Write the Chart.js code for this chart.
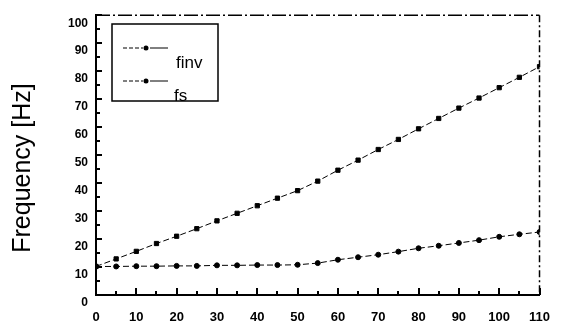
<!DOCTYPE html>
<html>
<head>
<meta charset="utf-8">
<script src="https://cdn.jsdelivr.net/npm/chart.js@4/dist/chart.umd.min.js"></script>
<style>
  body { margin: 0; background: #fff; }
</style>
</head>
<body>
<canvas id="freqChart" width="565" height="322"></canvas>
<script>
// speed axis (every 5)
var speed = [0, 5, 10, 15, 20, 25, 30, 35, 40, 45, 50, 55, 60, 65, 70, 75, 80, 85, 90, 95, 100, 105, 110];
var finv = [10.2, 12.9, 15.6, 18.4, 21.0, 23.7, 26.5, 29.2, 31.9, 34.6, 37.3, 40.7, 44.6, 48.2, 52.0, 55.6, 59.4, 63.1, 66.8, 70.4, 74.1, 77.8, 81.6];
var fs = [10.2, 10.2, 10.3, 10.3, 10.4, 10.4, 10.6, 10.6, 10.7, 10.7, 10.8, 11.4, 12.6, 13.5, 14.4, 15.5, 16.7, 17.6, 18.6, 19.6, 20.8, 21.7, 22.5];
var seriesNames = ['finv', 'fs'];
var yTitle = 'Frequency [Hz]';

function pts(arr) {
  return speed.map(function(s, i) { return {x: s, y: arr[i]}; });
}

// inside ticks, dashed top/right frame, boxed legend, axis title
var frame = {
  id: 'frame',
  afterDraw: function(chart) {
    var ctx = chart.ctx, a = chart.chartArea, x = chart.scales.x, y = chart.scales.y;
    ctx.save();
    ctx.strokeStyle = '#000';
    ctx.lineWidth = 1.5;
    ctx.setLineDash([14, 3, 2, 3]);
    ctx.beginPath();
    ctx.moveTo(a.left, a.top); ctx.lineTo(a.right, a.top);
    ctx.stroke();
    ctx.setLineDash([7, 3, 2, 3]);
    ctx.beginPath();
    ctx.moveTo(a.right, a.top); ctx.lineTo(a.right, a.bottom);
    ctx.stroke();
    ctx.setLineDash([]);
    ctx.lineWidth = 2;
    ctx.beginPath();
    for (var v = 0; v <= 110; v += 5) {
      var px = Math.round(x.getPixelForValue(v));
      var len = v % 10 == 0 ? 7 : 4;
      ctx.moveTo(px, a.bottom); ctx.lineTo(px, a.bottom - len);
    }
    for (var w = 0; w <= 100; w += 5) {
      var py = Math.round(y.getPixelForValue(w));
      var l2 = w % 10 == 0 ? 6 : 4;
      ctx.moveTo(a.left, py); ctx.lineTo(a.left + l2, py);
    }
    ctx.stroke();

    // legend
    ctx.lineWidth = 1.5;
    ctx.strokeRect(112, 24, 106, 77);
    var rows = [48, 81];
    ctx.font = '17px "Liberation Sans", Arial, sans-serif';
    ctx.fillStyle = '#000';
    ctx.textBaseline = 'middle';
    for (var i = 0; i < 2; i++) {
      var ly = rows[i];
      ctx.lineWidth = 1;
      ctx.setLineDash([4, 2]);
      ctx.beginPath(); ctx.moveTo(123, ly); ctx.lineTo(143, ly); ctx.stroke();
      ctx.setLineDash([]);
      ctx.beginPath(); ctx.moveTo(150, ly); ctx.lineTo(168, ly); ctx.stroke();
      ctx.beginPath(); ctx.arc(146, ly, 2.5, 0, Math.PI * 2); ctx.fill();
      ctx.fillText(seriesNames[i], i == 0 ? 176 : 174, ly + 15);
    }

    // y title
    ctx.translate(23, 168);
    ctx.rotate(-Math.PI / 2);
    ctx.textAlign = 'center';
    ctx.font = '25px "Liberation Sans", Arial, sans-serif';
    ctx.fillText(yTitle, 0, 0);
    ctx.restore();
  }
};

var ctx = document.getElementById('freqChart').getContext('2d');
var chart = new Chart(ctx, {
  type: 'line',
  data: {
    datasets: [
      {
        label: seriesNames[0],
        data: pts(finv),
        borderColor: '#000',
        backgroundColor: '#000',
        borderWidth: 1,
        borderDash: [6, 3],
        pointStyle: 'rect',
        pointRadius: 3,
        tension: 0
      },
      {
        label: seriesNames[1],
        data: pts(fs),
        borderColor: '#000',
        backgroundColor: '#000',
        borderWidth: 1,
        borderDash: [6, 3],
        pointStyle: 'circle',
        pointRadius: 2.5,
        tension: 0
      }
    ]
  },
  options: {
    responsive: false,
    animation: false,
    devicePixelRatio: 1,
    layout: { padding: { top: 11, right: 22, left: 0, bottom: 0 } },
    plugins: { legend: { display: false }, tooltip: { enabled: false } },
    scales: {
      x: {
        type: 'linear',
        min: 0, max: 110,
        grid: { display: false, drawTicks: false },
        border: { display: true, color: '#000', width: 2 },
        ticks: {
          stepSize: 10, padding: 15, color: '#000', maxRotation: 0,
          font: { family: '"Liberation Sans", Arial, sans-serif', size: 13, weight: 'bold' }
        },
        afterFit: function(s) { s.height = 27; }
      },
      y: {
        min: 0, max: 100,
        grid: { display: false, drawTicks: false },
        border: { display: true, color: '#000', width: 2 },
        ticks: {
          stepSize: 10, padding: 8, labelOffset: 8, color: '#000',
          font: { family: '"Liberation Sans", Arial, sans-serif', size: 12, weight: 'bold' }
        },
        afterFit: function(s) { s.width = 96; }
      }
    }
  },
  plugins: [frame]
});
</script>
</body>
</html>
